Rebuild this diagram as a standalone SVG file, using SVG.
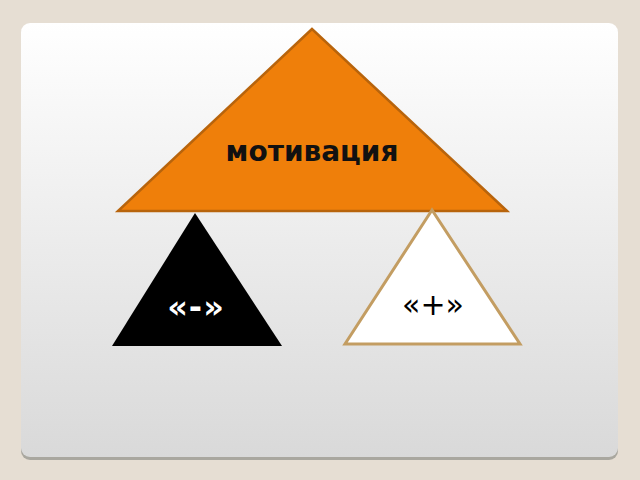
<svg xmlns="http://www.w3.org/2000/svg" width="640" height="480" viewBox="0 0 640 480">
<defs>
<linearGradient id="panel" x1="0" y1="0" x2="0" y2="1">
<stop offset="0" stop-color="#FFFFFF"/>
<stop offset="1" stop-color="#D9D9D9"/>
</linearGradient>
<style>
.lbl{font-family:"DejaVu Sans",sans-serif;text-anchor:middle}
</style>
</defs>
<rect x="0" y="0" width="640" height="480" fill="#E6DED3"/>
<rect x="21" y="25" width="597" height="435" rx="9" fill="#A9A79F"/>
<rect x="21" y="23" width="597" height="434" rx="9" fill="url(#panel)"/>
<g id="motivation">
<polygon points="312,29 118,211 507,211" fill="#EF7F0A" stroke="#B8640C" stroke-width="2.5" stroke-linejoin="miter"/>
<text class="lbl" x="312" y="161" font-size="28" font-weight="bold" fill="#111111">мотивация</text>
</g>
<g id="negative">
<polygon points="195,213 112,346 282,346" fill="#000000"/>
<text class="lbl" x="196" y="318" font-size="32" font-weight="bold" fill="#FFFFFF" letter-spacing="1">«-»</text>
</g>
<g id="positive">
<polygon points="432,210 345,344 520,344" fill="#FFFFFF" stroke="#C39D62" stroke-width="3"/>
<text class="lbl" x="433" y="315" font-size="30" fill="#000000">«+»</text>
</g>
<g id="connectors"/>
</svg>
